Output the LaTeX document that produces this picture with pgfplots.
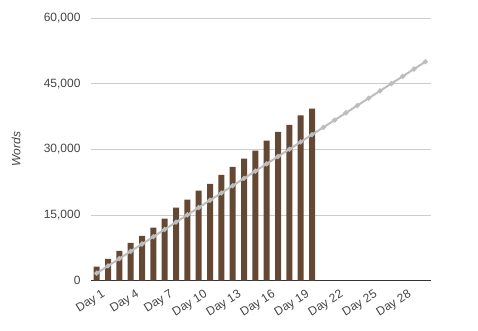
\documentclass[border=0pt]{standalone}
\usepackage{pgfplots}
\pgfplotsset{compat=1.18}
\usepackage{fontspec}
\setmainfont{Liberation Sans}
\definecolor{barc}{HTML}{654833}
\definecolor{linec}{HTML}{BDBDBD}
\definecolor{gridc}{HTML}{CCCCCC}
\definecolor{txt}{HTML}{444444}
\begin{document}
\begin{tikzpicture}
\begin{axis}[
  scale only axis,
  width=340pt, height=262.5pt,
  xmin=0.5, xmax=30.5,
  ymin=0, ymax=60000,
  xtick={1,4,7,10,13,16,19,22,25,28},
  xticklabels={Day 1,Day 4,Day 7,Day 10,Day 13,Day 16,Day 19,Day 22,Day 25,Day 28},
  ytick={0,15000,30000,45000,60000},
  scaled y ticks=false,
  /pgf/number format/.cd, 1000 sep={,}, assume math mode=true,
  /pgfplots/.cd,
  axis x line*=bottom, axis y line*=left,
  y axis line style={draw=none},
  x axis line style={draw=black!80, line width=0.8pt, -},
  major tick length=0pt,
  ymajorgrids,
  grid style={gridc, line width=0.6pt},
  tick label style={font=\fontsize{12}{14}\selectfont, text=txt},
  yticklabel style={xshift=-7pt},
  xticklabel style={rotate=32, anchor=north east, yshift=-6pt, xshift=3pt},
  clip=false,
]
\addplot[ybar, bar width=6pt, fill=barc, draw=none] coordinates {
(1,3160) (2,4920) (3,6760) (4,8590) (5,10190) (6,12100) (7,14160) (8,16680) (9,18510) (10,20570)
(11,22100) (12,24160) (13,26000) (14,27830) (15,29660) (16,31950) (17,34000) (18,35600) (19,37740) (20,39270)
};
\addplot[linec, line width=2pt, mark=*, mark size=1.4pt, mark options={fill=linec, draw=linec}] coordinates {
(1,1667) (2,3333) (3,5000) (4,6667) (5,8333) (6,10000) (7,11667) (8,13333) (9,15000) (10,16667)
(11,18333) (12,20000) (13,21667) (14,23333) (15,25000) (16,26667) (17,28333) (18,30000) (19,31667) (20,33333)
(21,35000) (22,36667) (23,38333) (24,40000) (25,41667) (26,43333) (27,45000) (28,46667) (29,48333) (30,50000)
};
\node[rotate=90, font=\fontsize{12}{14}\selectfont\itshape, text=txt] at (axis description cs:-0.2206,0.5) {Words};
\end{axis}
\pgfresetboundingbox
\useasboundingbox (-91pt,-49.5pt) rectangle (387pt,280.5pt);
\end{tikzpicture}
\end{document}
